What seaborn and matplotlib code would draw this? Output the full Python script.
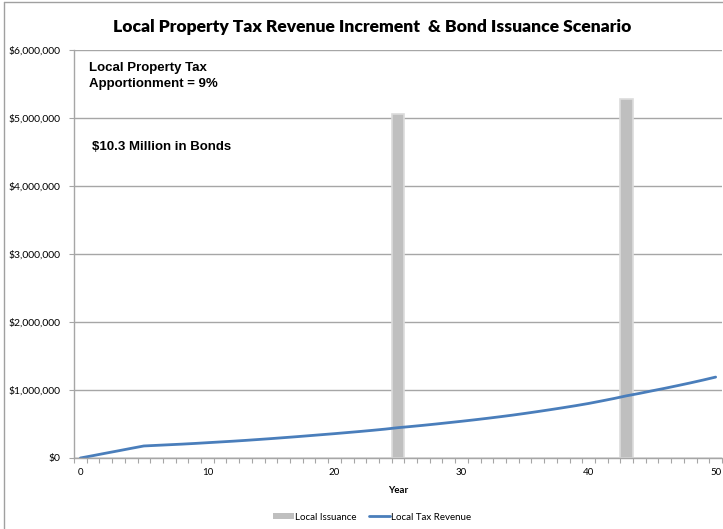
import matplotlib
matplotlib.use("Agg")
import matplotlib.pyplot as plt
import matplotlib.ticker as mticker
from matplotlib.patches import Patch
from matplotlib.lines import Line2D
import seaborn as sns
import pandas as pd
import numpy as np

# ---- data ----
years = list(range(0, 51))
tax_revenue = [0, 35000, 71000, 106000, 142000, 177000, 186000, 195000, 204000, 214000,
               225000, 236000, 247000, 259000, 272000, 285000, 299000, 313000, 328000, 343000,
               358000, 374000, 390000, 407000, 425000, 446000, 463000, 481000, 500000, 520000,
               540000, 561000, 583000, 606000, 630000, 656000, 683000, 711000, 740000, 770000,
               802000, 838000, 875000, 915000, 950000, 988000, 1025000, 1064000, 1104000, 1146000,
               1190000]
issue_years = [25, 43]
issue_amounts = [5060000, 5280000]

title = "Local Property Tax Revenue Increment  & Bond Issuance Scenario"
note1 = "Local Property Tax\nApportionment = 9%"
note2 = "$10.3 Million in Bonds"
x_label = "Year"
legend_labels = ["Local Issuance", "Local Tax Revenue"]

issuance = [0.0] * len(years)
for y, a in zip(issue_years, issue_amounts):
    issuance[years.index(y)] = a
df = pd.DataFrame({"Year": years, "Issuance": issuance, "Revenue": tax_revenue})

# ---- figure ----
sns.set_style("white", {"text.color": "black", "axes.labelcolor": "black",
                        "xtick.color": "black", "ytick.color": "black"})
plt.rcParams["font.family"] = ["Lato", "DejaVu Sans"]

fig = plt.figure(figsize=(7.23, 5.29), dpi=100)
ax = fig.add_axes([74 / 723, 1 - 458 / 529, (722 - 74) / 723, (458 - 50) / 529])

bar_color = "#BFBFBF"
line_color = "#4A7EBB"
grid_color = "#A6A6A6"

sns.barplot(data=df, x="Year", y="Issuance", order=years, color=bar_color,
            width=1.0, edgecolor="#DCDCDC", linewidth=1.2, saturation=1, ax=ax,
            errorbar=None)
sns.lineplot(data=df, x="Year", y="Revenue", color=line_color, linewidth=2.0, ax=ax)

ax.set_xlim(-0.5, 50.5)
ax.set_ylim(0, 6000000)

ax.yaxis.set_major_locator(mticker.MultipleLocator(1000000))
ax.yaxis.set_major_formatter(mticker.FuncFormatter(lambda v, p: f"${v:,.0f}"))
ax.grid(axis="y", color=grid_color, linewidth=1.0)
ax.set_axisbelow(True)

ax.xaxis.set_major_locator(mticker.FixedLocator([0, 10, 20, 30, 40, 50]))
ax.xaxis.set_major_formatter(mticker.FixedFormatter(["0", "10", "20", "30", "40", "50"]))
ax.xaxis.set_minor_locator(mticker.FixedLocator(np.arange(-0.5, 51, 1.0)))
ax.tick_params(axis="x", which="major", length=0, labelsize=7, pad=7, labelcolor="black")
ax.tick_params(axis="x", which="minor", length=3.5, width=0.8, color=grid_color, direction="out")
ax.tick_params(axis="y", which="major", length=3.5, width=0.8, color=grid_color,
               direction="out", labelsize=7.5, pad=6, labelcolor="black")
ax.tick_params(bottom=True, left=True, which="both")

for s in ["top", "right"]:
    ax.spines[s].set_visible(False)
for s in ["left", "bottom"]:
    ax.spines[s].set_color(grid_color)
    ax.spines[s].set_linewidth(1.0)

ax.set_xlabel(x_label, fontsize=7, fontweight="bold", labelpad=7, color="black")
ax.set_ylabel("")

fig.text(372 / 723, 1 - 27 / 529, title, ha="center", va="center",
         fontsize=12.6, fontweight="heavy", color="black")
fig.text(89 / 723, 1 - 76 / 529, note1, ha="left", va="center", color="black",
         fontsize=9.5, fontweight="bold", family=["Liberation Sans"], linespacing=1.45)
fig.text(92 / 723, 1 - 147 / 529, note2, ha="left", va="center", color="black",
         fontsize=9.5, fontweight="bold", family=["Liberation Sans"])

handles = [Patch(facecolor=bar_color, edgecolor="none"),
           Line2D([0], [0], color=line_color, linewidth=2.0)]
fig.legend(handles, legend_labels, loc="center", bbox_to_anchor=(372 / 723, 1 - 517 / 529),
           ncol=2, frameon=False, fontsize=7, handlelength=2.2, handleheight=0.5,
           handletextpad=0.1, columnspacing=1.2, labelcolor="black")

# chart border
fig.add_artist(Line2D([4 / 723, 4 / 723], [0, 1 - 2 / 529], transform=fig.transFigure,
                      color="#A0A0A0", linewidth=1.0))
fig.add_artist(Line2D([4 / 723, 1], [1 - 2 / 529, 1 - 2 / 529], transform=fig.transFigure,
                      color="#A0A0A0", linewidth=1.0))

fig.savefig("out.png", dpi=100)
